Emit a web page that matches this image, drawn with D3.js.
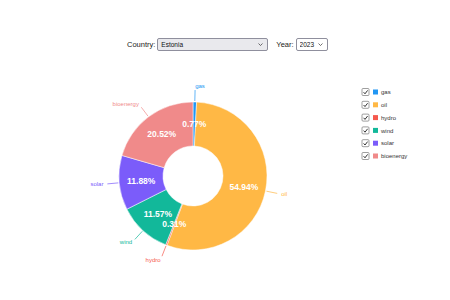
<!DOCTYPE html>
<html lang="en">
<head>
<meta charset="UTF-8">
<title>Energy mix donut</title>
<script src="https://d3js.org/d3.v7.min.js"></script>
<style>
  body { margin: 0; background: #fff; font-family: "Liberation Sans", Arial, sans-serif; }
  #wrap { position: relative; width: 450px; height: 300px; overflow: hidden; }
  #controls { position: absolute; left: 127px; top: 38px; height: 13px; font-size: 7.5px; color: #222; display: flex; align-items: center; }
  #controls select {
    -webkit-appearance: none; appearance: none;
    font-size: 6.5px; height: 13px; line-height: 11px; padding: 0 10px 0 3px; margin: 0 0 0 2px;
    font-family: "Liberation Sans", Arial, sans-serif; color: #111;
    border: 1px solid #8f8f9d; border-radius: 2px;
    background-repeat: no-repeat; background-position: right 4px center; background-size: 5px 3px;
    background-image: url("data:image/svg+xml;utf8,<svg xmlns='http://www.w3.org/2000/svg' viewBox='0 0 5 3'><path d='M0.5 0.5 L2.5 2.5 L4.5 0.5' fill='none' stroke='%23333' stroke-width='0.7'/></svg>");
  }
  #country { width: 111px; background-color: #e9e9ed; }
  #year { width: 32px; background-color: #fff; }
  #controls .gap { width: 8px; }
  svg { position: absolute; left: 0; top: 0; }
</style>
</head>
<body>
<div id="wrap">
  <div id="controls">
    <label for="country">Country:</label><select id="country"></select>
    <span class="gap"></span>
    <label for="year">Year:</label><select id="year"></select>
  </div>
  <div id="chart"></div>
</div>
<script>
// data
const countries = ["Estonia"];
const years = ["2023"];
const sources = ["gas", "oil", "hydro", "wind", "solar", "bioenergy"];
const shares = [0.77, 54.94, 0.31, 11.57, 11.88, 20.52];
const colors = ["#2196f3", "#ffb845", "#f5594e", "#12b89a", "#7b5cfa", "#f08a8a"];

d3.select("#country").selectAll("option").data(countries).join("option").text(d => d);
d3.select("#year").selectAll("option").data(years).join("option").text(d => d);

const width = 450, height = 300;
const cx = 193, cy = 176;
const outerR = 74, innerR = 30;

const svg = d3.select("#chart").append("svg")
    .attr("width", width)
    .attr("height", height);

const g = svg.append("g").attr("transform", `translate(${cx},${cy})`);

const data = sources.map((s, i) => ({ name: s, value: shares[i], color: colors[i] }));

const pie = d3.pie().sort(null).value(d => d.value);
const arc = d3.arc().innerRadius(innerR).outerRadius(outerR);
const arcs = pie(data);

g.selectAll("path.slice")
    .data(arcs)
    .join("path")
    .attr("class", "slice")
    .attr("d", arc)
    .attr("fill", d => d.data.color)
    .attr("stroke", "#fff")
    .attr("stroke-width", 0.5);

// percentage labels
g.selectAll("text.pct")
    .data(arcs)
    .join("text")
    .attr("class", "pct")
    .attr("transform", d => `translate(${arc.centroid(d)})`)
    .attr("text-anchor", "middle")
    .attr("dy", "0.35em")
    .attr("fill", "#fff")
    .attr("font-weight", "bold")
    .attr("font-size", "8.5px")
    .text(d => d.data.value.toFixed(2) + "%");

// outer labels with leader lines
function mid(d) { return (d.startAngle + d.endAngle) / 2; }
function pt(a, r) { return [Math.sin(a) * r, -Math.cos(a) * r]; }

g.selectAll("line.lead")
    .data(arcs)
    .join("line")
    .attr("class", "lead")
    .attr("x1", d => pt(mid(d), outerR + 1)[0])
    .attr("y1", d => pt(mid(d), outerR + 1)[1])
    .attr("x2", d => pt(mid(d), outerR + 12)[0])
    .attr("y2", d => pt(mid(d), outerR + 12)[1])
    .attr("stroke", d => d.data.color)
    .attr("stroke-width", 0.7);

g.selectAll("text.name")
    .data(arcs)
    .join("text")
    .attr("class", "name")
    .attr("x", d => pt(mid(d), outerR + 16)[0])
    .attr("y", d => pt(mid(d), outerR + 16)[1])
    .attr("dy", "0.35em")
    .attr("text-anchor", d => mid(d) < Math.PI ? "start" : "end")
    .attr("fill", d => d.data.color)
    .attr("font-size", "6px")
    .text(d => d.data.name);

// legend
const legend = svg.append("g").attr("transform", "translate(362,92)");
const item = legend.selectAll("g")
    .data(data)
    .join("g")
    .attr("transform", (d, i) => `translate(0,${i * 12.8})`);

item.append("rect")
    .attr("x", 0).attr("y", -3.5)
    .attr("width", 7).attr("height", 7)
    .attr("rx", 1)
    .attr("fill", "#fff")
    .attr("stroke", "#767676")
    .attr("stroke-width", 0.7);
item.append("path")
    .attr("d", "M1.6,0.2 L3,1.8 L5.6,-1.6")
    .attr("fill", "none")
    .attr("stroke", "#333")
    .attr("stroke-width", 1);
item.append("rect")
    .attr("x", 11).attr("y", -2.5)
    .attr("width", 5).attr("height", 5)
    .attr("fill", d => d.color);
item.append("text")
    .attr("x", 19)
    .attr("dy", "0.35em")
    .attr("font-size", "6px")
    .attr("fill", "#333")
    .text(d => d.name);
</script>
</body>
</html>
